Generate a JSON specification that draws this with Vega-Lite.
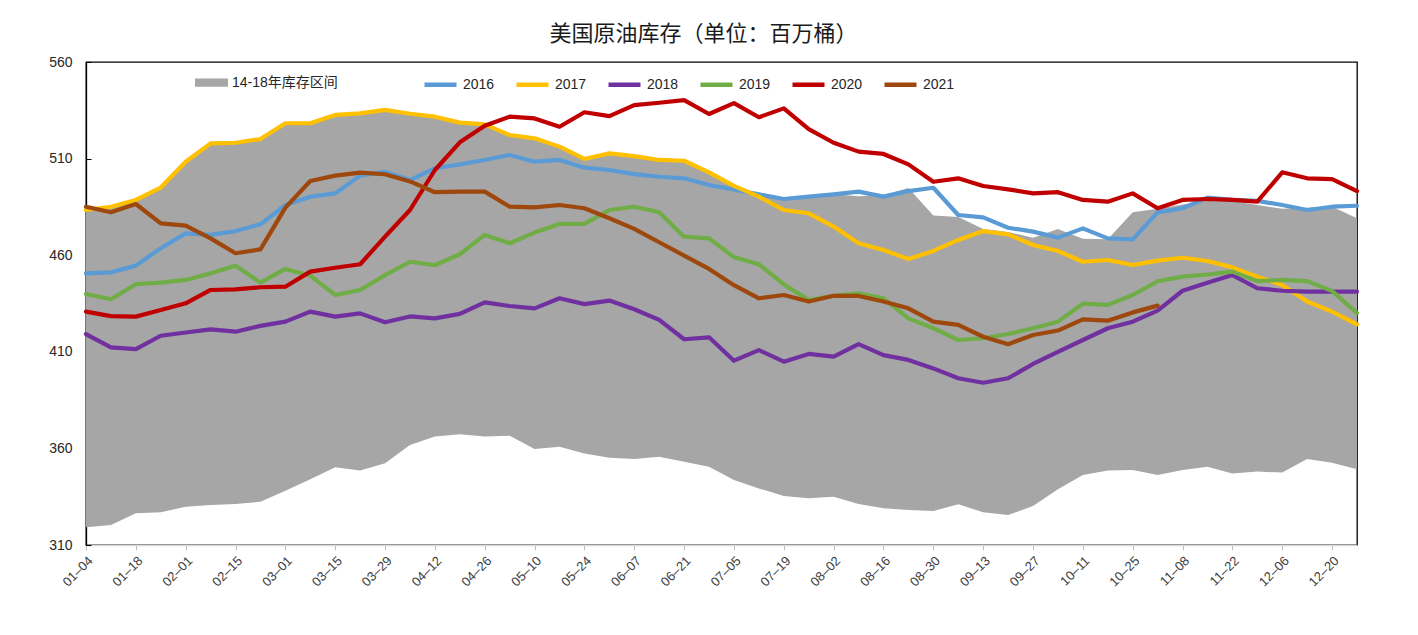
{
"$schema":"https://vega.github.io/schema/vega-lite/v6.json",
"width":1271,"height":483,
"autosize":{"type":"none"},
"padding":{"left":86,"top":62,"right":61,"bottom":90},
"background":"#ffffff",
"title":{"text":"美国原油库存（单位：百万桶）","font":"Noto Sans CJK SC","fontSize":22,"fontWeight":"normal","color":"#1a1a1a","anchor":"middle","dx":-18,"offset":9},
"data":{"values":[
{"week":"01-04","lo":319.2,"hi":483.4,"2016":450.6,"2017":483.4,"2018":419.2,"2019":439.9,"2020":430.8,"2021":485.1},
{"week":"01-11","lo":320.3,"hi":485.1,"2016":451.1,"2017":485.1,"2018":412.3,"2019":437.2,"2020":428.5,"2021":482.2},
{"week":"01-18","lo":326.4,"hi":488.6,"2016":454.6,"2017":488.6,"2018":411.4,"2019":445.0,"2020":428.2,"2021":486.5},
{"week":"01-25","lo":326.9,"hi":495.0,"2016":463.6,"2017":495.0,"2018":418.3,"2019":445.8,"2020":431.6,"2021":476.5},
{"week":"02-01","lo":329.8,"hi":508.4,"2016":471.3,"2017":508.4,"2018":420.0,"2019":447.2,"2020":435.1,"2021":475.3},
{"week":"02-08","lo":330.7,"hi":517.9,"2016":470.5,"2017":517.9,"2018":421.6,"2019":450.6,"2020":442.0,"2021":468.7},
{"week":"02-15","lo":331.2,"hi":518.2,"2016":472.5,"2017":518.2,"2018":420.4,"2019":454.6,"2020":442.3,"2021":461.0},
{"week":"02-22","lo":332.4,"hi":520.1,"2016":476.0,"2017":520.1,"2018":423.4,"2019":445.8,"2020":443.4,"2021":463.0},
{"week":"03-01","lo":338.1,"hi":528.3,"2016":486.0,"2017":528.3,"2018":425.6,"2019":452.9,"2020":443.7,"2021":484.6},
{"week":"03-08","lo":344.0,"hi":528.3,"2016":490.3,"2017":528.3,"2018":430.8,"2019":449.4,"2020":451.5,"2021":498.4},
{"week":"03-15","lo":350.2,"hi":532.6,"2016":492.0,"2017":532.6,"2018":428.2,"2019":439.4,"2020":453.5,"2021":501.2},
{"week":"03-22","lo":348.5,"hi":533.4,"2016":501.2,"2017":533.4,"2018":429.9,"2019":442.0,"2020":455.3,"2021":502.7},
{"week":"03-29","lo":352.3,"hi":535.2,"2016":503.2,"2017":535.2,"2018":425.3,"2019":449.7,"2020":469.6,"2021":501.9},
{"week":"04-05","lo":361.8,"hi":533.2,"2016":498.9,"2017":533.2,"2018":428.3,"2019":456.6,"2020":483.4,"2021":498.2},
{"week":"04-12","lo":366.1,"hi":531.7,"2016":505.0,"2017":531.7,"2018":427.3,"2019":454.9,"2020":504.1,"2021":492.6},
{"week":"04-19","lo":367.3,"hi":528.6,"2016":507.0,"2017":528.6,"2018":429.6,"2019":460.5,"2020":518.4,"2021":492.9},
{"week":"04-26","lo":366.1,"hi":527.7,"2016":509.3,"2017":527.7,"2018":435.6,"2019":470.5,"2020":527.0,"2021":492.9},
{"week":"05-03","lo":366.6,"hi":522.2,"2016":511.9,"2017":522.2,"2018":433.7,"2019":466.2,"2020":531.7,"2021":485.1},
{"week":"05-10","lo":359.7,"hi":520.5,"2016":508.4,"2017":520.5,"2018":432.5,"2019":471.7,"2020":530.8,"2021":484.8},
{"week":"05-17","lo":360.9,"hi":516.2,"2016":509.3,"2017":516.2,"2018":437.7,"2019":476.2,"2020":526.5,"2021":486.0},
{"week":"05-24","lo":357.4,"hi":509.8,"2016":505.3,"2017":509.8,"2018":434.7,"2019":476.2,"2020":534.0,"2021":484.3},
{"week":"05-31","lo":355.2,"hi":512.7,"2016":504.1,"2017":512.7,"2018":436.5,"2019":483.4,"2020":532.0,"2021":479.1},
{"week":"06-07","lo":354.5,"hi":511.3,"2016":502.0,"2017":511.3,"2018":432.0,"2019":485.1,"2020":537.7,"2021":473.6},
{"week":"06-14","lo":355.7,"hi":509.3,"2016":500.6,"2017":509.3,"2018":426.5,"2019":482.2,"2020":538.9,"2021":466.7},
{"week":"06-21","lo":353.1,"hi":508.9,"2016":499.8,"2017":508.9,"2018":416.5,"2019":469.6,"2020":540.3,"2021":459.8},
{"week":"06-28","lo":350.5,"hi":502.9,"2016":496.3,"2017":502.9,"2018":417.5,"2019":468.7,"2020":533.1,"2021":452.9},
{"week":"07-05","lo":343.6,"hi":495.9,"2016":494.0,"2017":495.9,"2018":405.4,"2019":459.0,"2020":538.7,"2021":444.5},
{"week":"07-12","lo":339.3,"hi":491.5,"2016":491.5,"2017":490.3,"2018":410.9,"2019":455.3,"2020":531.4,"2021":437.7},
{"week":"07-19","lo":335.4,"hi":489.1,"2016":489.1,"2017":483.4,"2018":404.9,"2019":444.9,"2020":536.0,"2021":439.4},
{"week":"07-26","lo":334.2,"hi":490.3,"2016":490.3,"2017":481.7,"2018":408.9,"2019":436.8,"2020":525.3,"2021":436.0},
{"week":"08-02","lo":335.0,"hi":491.5,"2016":491.5,"2017":474.8,"2018":407.5,"2019":439.0,"2020":518.2,"2021":439.0},
{"week":"08-09","lo":331.2,"hi":490.5,"2016":492.9,"2017":466.2,"2018":414.0,"2019":440.3,"2020":513.6,"2021":438.9},
{"week":"08-16","lo":329.0,"hi":491.0,"2016":490.3,"2017":462.7,"2018":408.3,"2019":437.7,"2020":512.4,"2021":436.0},
{"week":"08-23","lo":328.1,"hi":494.8,"2016":493.2,"2017":458.0,"2018":405.8,"2019":427.3,"2020":507.0,"2021":432.5},
{"week":"08-30","lo":327.6,"hi":480.5,"2016":494.9,"2017":462.2,"2018":401.4,"2019":422.2,"2020":498.0,"2021":425.6},
{"week":"09-06","lo":331.1,"hi":479.8,"2016":480.8,"2017":467.9,"2018":396.3,"2019":416.1,"2020":499.8,"2021":423.9},
{"week":"09-13","lo":326.9,"hi":473.5,"2016":479.6,"2017":472.5,"2018":394.0,"2019":417.0,"2020":495.8,"2021":417.8},
{"week":"09-20","lo":325.5,"hi":472.0,"2016":474.2,"2017":470.8,"2018":396.3,"2019":419.2,"2020":494.1,"2021":413.9},
{"week":"09-27","lo":330.2,"hi":469.0,"2016":472.2,"2017":465.3,"2018":403.7,"2019":422.2,"2020":492.0,"2021":418.7},
{"week":"10-04","lo":338.8,"hi":473.5,"2016":469.1,"2017":462.2,"2018":410.0,"2019":425.6,"2020":492.6,"2021":421.0},
{"week":"10-11","lo":346.2,"hi":468.5,"2016":473.9,"2017":456.6,"2018":416.1,"2019":434.9,"2020":488.6,"2021":426.8},
{"week":"10-18","lo":348.5,"hi":468.2,"2016":468.7,"2017":457.5,"2018":422.2,"2019":434.3,"2020":487.7,"2021":426.1},
{"week":"10-25","lo":348.8,"hi":482.2,"2016":468.2,"2017":454.9,"2018":425.6,"2019":439.4,"2020":492.0,"2021":430.4},
{"week":"11-01","lo":346.2,"hi":484.0,"2016":482.2,"2017":457.2,"2018":431.3,"2019":446.5,"2020":484.3,"2021":433.9},
{"week":"11-08","lo":348.8,"hi":486.2,"2016":484.3,"2017":458.7,"2018":441.6,"2019":448.9,"2020":488.6},
{"week":"11-15","lo":350.5,"hi":488.0,"2016":489.8,"2017":457.0,"2018":445.8,"2019":450.0,"2020":489.1},
{"week":"11-22","lo":347.0,"hi":488.0,"2016":488.6,"2017":453.7,"2018":449.7,"2019":451.5,"2020":488.6},
{"week":"11-29","lo":348.0,"hi":486.0,"2016":488.1,"2017":448.9,"2018":442.9,"2019":446.6,"2020":487.7},
{"week":"12-06","lo":347.5,"hi":484.0,"2016":486.0,"2017":444.6,"2018":441.6,"2019":447.2,"2020":502.9},
{"week":"12-13","lo":354.5,"hi":484.6,"2016":483.4,"2017":436.0,"2018":441.1,"2019":446.6,"2020":499.8},
{"week":"12-20","lo":352.6,"hi":485.1,"2016":485.1,"2017":430.8,"2018":441.1,"2019":441.5,"2020":499.4},
{"week":"12-27","lo":349.2,"hi":479.1,"2016":485.6,"2017":424.2,"2018":441.1,"2019":430.0,"2020":493.2}
]},
"encoding":{
 "x":{"field":"week","type":"ordinal","scale":{"type":"point","padding":0},
  "axis":{"title":null,"labelExpr":"replace(datum.label, '-', '–')","values":["01-04","01-18","02-01","02-15","03-01","03-15","03-29","04-12","04-26","05-10","05-24","06-07","06-21","07-05","07-19","08-02","08-16","08-30","09-13","09-27","10-11","10-25","11-08","11-22","12-06","12-20"]}}
},
"layer":[
 {"mark":{"type":"area","opacity":1},
  "encoding":{
   "y":{"field":"lo","type":"quantitative","scale":{"domain":[310,560],"nice":false,"zero":false},"title":null,"axis":{"values":[310,360,410,460,510,560]}},
   "y2":{"field":"hi"},
   "fill":{"datum":"14-18年库存区间","type":"nominal","scale":{"range":["#A6A6A6"]},
    "legend":{"orient":"none","legendX":109,"legendY":4,"title":null,"symbolType":"M-1,-0.25H1V0.25H-1Z","symbolSize":1089,"symbolStrokeWidth":0,"symbolOpacity":1,"labelFontSize":14,"labelFont":"Liberation Sans, Noto Sans CJK SC","labelColor":"#262626","labelOffset":4,"padding":0}}
  }},
 {"transform":[{"fold":["2016","2017","2018","2019","2020","2021"],"as":["year","value"]}],
  "mark":{"type":"line","strokeWidth":4.2,"strokeCap":"round","strokeJoin":"round"},
  "encoding":{
   "y":{"field":"value","type":"quantitative","title":null},
   "stroke":{"field":"year","type":"nominal","scale":{"domain":["2016","2017","2018","2019","2020","2021"],"range":["#5B9BD5","#FFC000","#7030A0","#70AD47","#C00000","#9E480E"]},
    "legend":{"orient":"none","legendX":336,"legendY":4,"direction":"horizontal","title":null,"symbolType":"stroke","symbolSize":1024,"symbolStrokeWidth":4.5,"labelFontSize":14,"labelFont":"Liberation Sans","labelColor":"#262626","labelOffset":4,"columnPadding":12,"padding":0}}
  }}
],
"config":{
 "view":{"stroke":"#000000","strokeWidth":1.3},
 "axisX":{"labelAngle":-45,"labelFontSize":13,"labelFont":"Liberation Sans","labelColor":"#404040","domainColor":"#D9D9D9","domainWidth":1.5,"tickColor":"#BFBFBF","tickSize":5,"grid":false,"labelPadding":4},
 "axisY":{"labelFontSize":14,"labelFont":"Liberation Sans","labelColor":"#262626","domainColor":"#000000","domainWidth":1.3,"tickColor":"#000000","tickSize":-5,"grid":false,"labelPadding":19}
}
}
